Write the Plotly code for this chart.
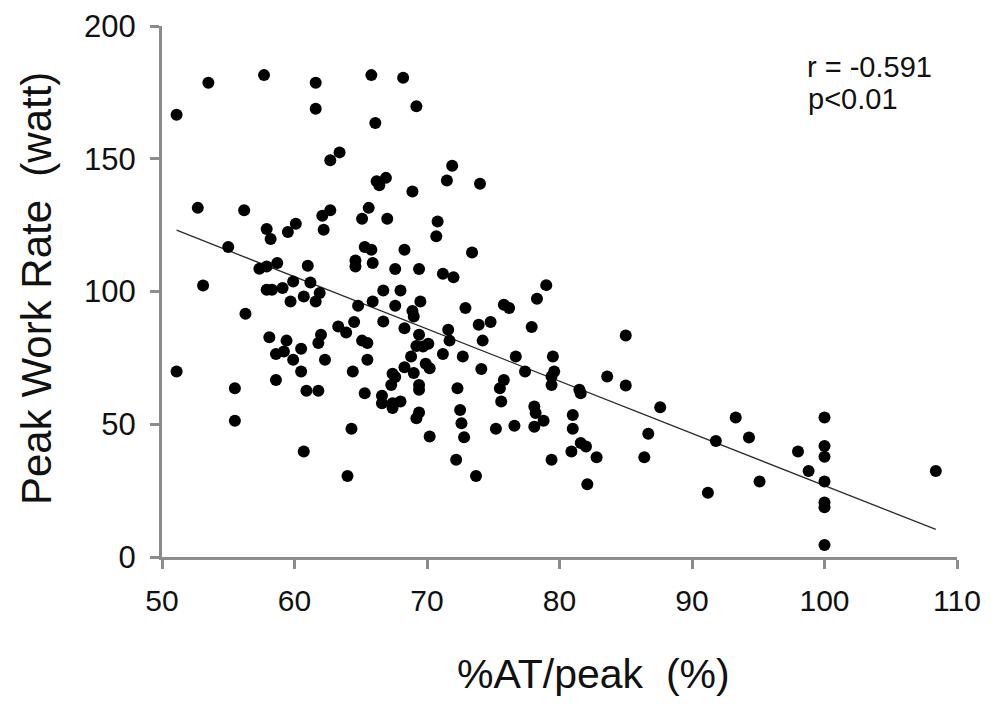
import plotly.graph_objects as go

# %AT/peak (%) values
at_peak = [
    51.1, 53.5, 57.7, 61.6, 61.6, 65.8, 68.2, 66.1, 69.2, 63.4,
    62.7, 66.2, 66.9, 66.4, 68.9, 52.7, 56.2, 65.6, 71.9, 71.5,
    74.0, 62.1, 62.7, 65.1, 67.0, 62.2, 57.9, 58.2, 60.1, 59.5,
    55.0, 65.3, 65.8, 68.3, 64.6, 64.6, 65.9, 67.6, 69.4, 61.0,
    58.7, 57.35, 57.9, 53.1, 57.9, 58.3, 59.1, 59.9, 61.2, 61.9,
    60.7, 61.6, 59.7, 64.8, 65.9, 66.7, 68.0, 67.6, 69.5, 68.9,
    69.0, 66.7, 64.5, 63.3, 63.9, 68.3, 56.3, 62.0, 61.8, 58.1,
    59.4, 60.5, 58.6, 59.2, 59.9, 62.3, 65.1, 65.5, 65.5, 69.4,
    69.2, 69.7, 70.1, 68.8, 68.3, 69.0, 51.1, 60.5, 64.4, 67.4,
    67.6, 55.5, 55.5, 58.6, 60.9, 61.8, 65.3, 64.3, 60.7, 64.0,
    67.3, 69.4, 69.4, 66.6, 66.6, 67.4, 67.4, 68.0, 69.4, 69.2,
    70.2, 70.8, 70.7, 73.4, 71.2, 72.0, 72.9, 75.8, 76.2, 78.3,
    79.0, 73.9, 74.8, 71.6, 71.7, 74.2, 77.9, 85.0, 71.2, 72.7,
    69.9, 70.2, 74.1, 76.7, 77.4, 79.5, 79.6, 79.4, 83.6, 75.8,
    75.5, 72.3, 72.5, 72.6, 72.8, 72.2, 73.7, 75.6, 75.2, 76.6,
    78.1, 78.2, 78.1, 78.8, 79.4, 79.4, 81.5, 81.6, 81.0, 81.0,
    80.9, 81.6, 82.0, 82.8, 82.1, 85.0, 87.6, 86.7, 86.4, 93.3,
    91.8, 94.3, 91.2, 95.1, 98.0, 98.8, 100.0, 100.0, 100.0, 100.0,
    100.0, 100.0, 100.0, 108.4,
]

# Peak Work Rate (watt) values
work_rate = [
    166.6, 178.6, 181.5, 178.6, 168.8, 181.5, 180.5, 163.5, 169.8, 152.4,
    149.4, 141.5, 142.8, 140.0, 137.7, 131.5, 130.6, 131.5, 147.4, 141.8,
    140.6, 128.5, 130.6, 127.4, 127.4, 123.3, 123.5, 119.8, 125.5, 122.4,
    116.8, 116.8, 115.7, 115.7, 111.7, 109.4, 110.7, 108.5, 108.5, 109.7,
    110.7, 108.6, 109.4, 102.3, 100.7, 100.7, 101.3, 103.8, 103.4, 99.4,
    98.1, 96.2, 96.2, 94.6, 96.2, 100.4, 100.4, 94.6, 96.2, 92.7,
    90.6, 88.7, 88.5, 86.8, 84.6, 86.2, 91.6, 83.7, 80.6, 82.8,
    81.5, 78.4, 76.5, 77.4, 74.3, 74.3, 81.5, 80.6, 74.3, 83.7,
    79.5, 79.3, 80.3, 75.5, 71.5, 69.3, 69.9, 69.9, 69.9, 69.0,
    67.8, 63.6, 51.3, 66.7, 62.6, 62.6, 61.7, 48.3, 39.7, 30.5,
    64.8, 64.8, 63.0, 60.7, 57.9, 57.9, 56.1, 58.6, 54.4, 52.3,
    45.4, 126.4, 120.8, 114.7, 106.7, 105.4, 93.8, 95.0, 93.8, 97.3,
    102.4, 87.5, 88.5, 85.6, 81.5, 81.5, 86.6, 83.4, 76.5, 75.5,
    72.8, 71.1, 70.8, 75.5, 69.9, 75.5, 69.9, 68.0, 68.0, 66.7,
    63.6, 63.6, 55.4, 50.4, 45.1, 36.6, 30.5, 58.6, 48.3, 49.4,
    56.7, 54.2, 49.1, 51.3, 36.6, 64.8, 63.0, 61.7, 53.5, 48.3,
    39.7, 42.9, 41.6, 37.6, 27.4, 64.6, 56.4, 46.4, 37.6, 52.5,
    43.7, 45.0, 24.2, 28.4, 39.7, 32.4, 52.5, 41.8, 37.8, 28.4,
    20.5, 18.7, 4.5, 32.4,
]

# Regression line
SLOPE = -1.967
INTERCEPT = 223.6

x_ticks = [50, 60, 70, 80, 90, 100, 110]
y_ticks = [0, 50, 100, 150, 200]

x_title = "%AT/peak  (%)"
y_title = "Peak Work Rate  (watt)"
stat_r = "r = -0.591"
stat_p = "p<0.01"

line_x = [min(at_peak), max(at_peak)]
line_y = [INTERCEPT + SLOPE * v for v in line_x]

# The page places the figure 8px in from the top-left corner (body margin)
OFF = 8
W, H = 991, 704
L, T = 162 - OFF, 26 - OFF
PW, PH = 795, 531
R = W - L - PW
B = H - T - PH


def px_x(p):
    # screen pixel -> paper x
    return (p - OFF - L) / PW


def px_y(p):
    # screen pixel -> paper y
    return (T + PH - (p - OFF)) / PH


fig = go.Figure()
fig.add_trace(go.Scatter(
    x=line_x, y=line_y, mode="lines",
    line=dict(color="#2a2a2a", width=1.3), showlegend=False, hoverinfo="skip",
))
fig.add_trace(go.Scatter(
    x=at_peak, y=work_rate, mode="markers",
    marker=dict(color="black", size=12, line=dict(width=0)),
    showlegend=False, cliponaxis=False,
))

axis_col = "#8c8c8c"
ff = "Liberation Sans, Arial, sans-serif"
txt = "#111111"

fig.update_layout(
    width=W, height=H,
    margin=dict(l=L, r=R, t=T, b=B, autoexpand=False),
    paper_bgcolor="white", plot_bgcolor="white",
    font=dict(family=ff, color=txt),
    xaxis=dict(
        range=[50, 110], tickvals=x_ticks, ticktext=[str(t) for t in x_ticks],
        automargin=False,
        showgrid=False, zeroline=False, showline=True, linecolor=axis_col, linewidth=3,
        ticks="outside", ticklen=9, tickwidth=3, tickcolor=axis_col,
        tickfont=dict(size=30, family=ff, color=txt),
        ticklabelstandoff=6,
    ),
    yaxis=dict(
        range=[0, 200], tickvals=y_ticks, ticktext=[str(t) for t in y_ticks],
        automargin=False,
        showgrid=False, zeroline=False, showline=True, linecolor=axis_col, linewidth=3,
        ticks="outside", ticklen=9, tickwidth=3, tickcolor=axis_col,
        tickfont=dict(size=31, family=ff, color=txt),
        ticklabelstandoff=8,
    ),
    annotations=[
        dict(x=px_x(593), y=px_y(674), xref="paper", yref="paper", text=x_title,
             showarrow=False, xanchor="center", yanchor="middle",
             font=dict(size=41, family=ff, color=txt)),
        dict(x=px_x(36), y=px_y(289), xref="paper", yref="paper", text=y_title,
             showarrow=False, xanchor="center", yanchor="middle", textangle=-90,
             font=dict(size=42, family=ff, color=txt)),
        dict(x=px_x(805), y=px_y(67), xref="paper", yref="paper", text=stat_r,
             showarrow=False, xanchor="left", yanchor="middle",
             font=dict(size=29, family=ff, color=txt)),
        dict(x=px_x(806), y=px_y(99), xref="paper", yref="paper", text=stat_p,
             showarrow=False, xanchor="left", yanchor="middle",
             font=dict(size=29, family=ff, color=txt)),
    ],
)

fig.write_html("out.html")
